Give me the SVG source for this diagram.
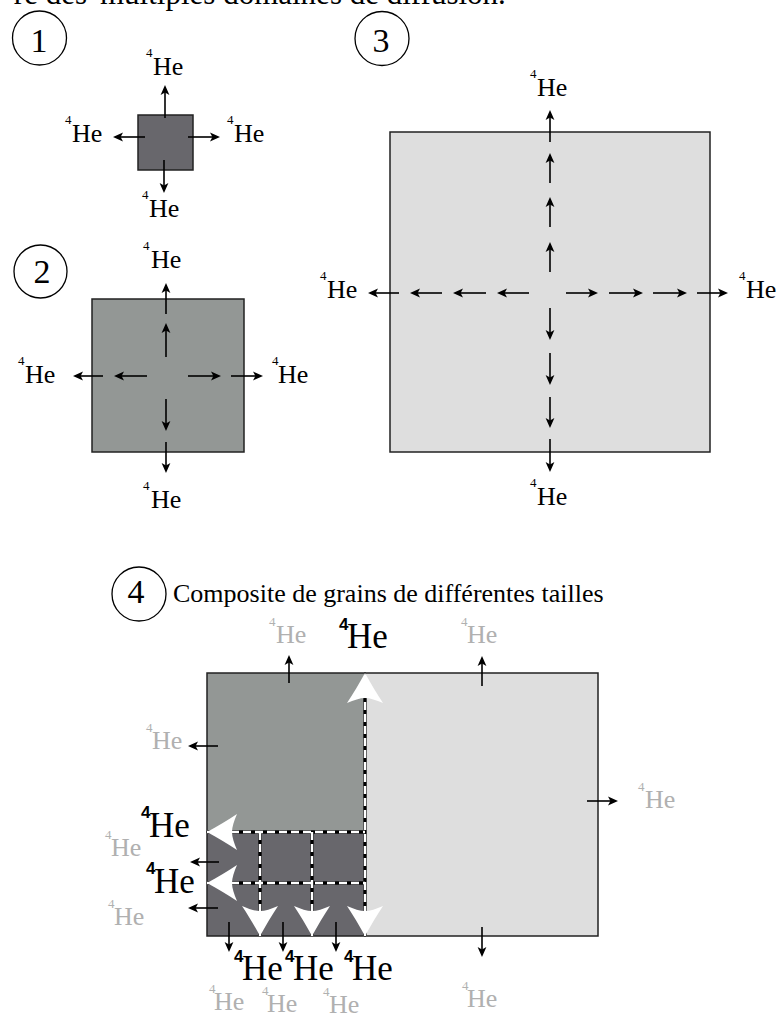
<svg xmlns="http://www.w3.org/2000/svg" width="777" height="1014" viewBox="0 0 777 1014">
<style>
.t{font-family:"Liberation Serif","Times New Roman",serif;fill:#000}
.lbl{font-size:26px}
.sup{font-size:13px}
.big{font-size:35px}
.bsup{font-family:"Liberation Sans",Arial,sans-serif;font-weight:bold;font-size:17px;fill:#000}
.gray{fill:#b0b0b0}
.num{font-size:34px;text-anchor:middle}
.ring{fill:none;stroke:#000;stroke-width:1.3}
.box{stroke:#222;stroke-width:1.5}
.dark{fill:#68676c}
.mid{fill:#939795}
.light{fill:#dedede}
.arr{fill:none;stroke:#000;stroke-width:1.6;marker-end:url(#ah)}
.dblack{fill:none;stroke:#000;stroke-width:3.4}
.dwhite{fill:none;stroke:#fff;stroke-width:2.4;stroke-dasharray:8 4}
</style>
<defs>
<marker id="ah" markerUnits="userSpaceOnUse" markerWidth="14" markerHeight="12" refX="7" refY="5" orient="auto">
<path d="M0,0.6 L10,5 L0,9.4 L2.4,5 Z" fill="#000"/>
</marker>
<path id="wa" d="M0,0 C6,11 12,21 18,30 C11,27 5,25 0,25 C-5,25 -11,27 -18,30 C-12,21 -6,11 0,0 Z" fill="#fff"/>
</defs>

<text class="t" x="87" y="4" font-size="31" text-anchor="end">re des</text>
<text class="t" x="100" y="4" font-size="31">multiples domaines de diffusion.</text>

<g id="panel1">
<circle class="ring" cx="39.5" cy="38" r="27"/>
<text class="t num" x="39" y="52">1</text>
<rect class="box dark" x="138" y="115" width="55" height="55"/>
<text class="t lbl"><tspan class="sup" x="146" y="57">4</tspan><tspan x="153" y="75">He</tspan></text>
<text class="t lbl"><tspan class="sup" x="65" y="124">4</tspan><tspan x="72" y="142">He</tspan></text>
<text class="t lbl"><tspan class="sup" x="227" y="124">4</tspan><tspan x="234" y="142">He</tspan></text>
<text class="t lbl"><tspan class="sup" x="142" y="199">4</tspan><tspan x="149" y="217">He</tspan></text>
</g>

<g id="panel2">
<circle class="ring" cx="40.5" cy="271.5" r="26.5"/>
<text class="t num" x="42" y="283">2</text>
<rect class="box mid" x="92" y="299" width="152" height="153"/>
<text class="t lbl"><tspan class="sup" x="143" y="250">4</tspan><tspan x="151" y="268">He</tspan></text>
<text class="t lbl"><tspan class="sup" x="18" y="365">4</tspan><tspan x="25" y="383">He</tspan></text>
<text class="t lbl"><tspan class="sup" x="272" y="365">4</tspan><tspan x="278" y="383">He</tspan></text>
<text class="t lbl"><tspan class="sup" x="143" y="490">4</tspan><tspan x="151" y="508">He</tspan></text>
</g>

<g id="panel3">
<circle class="ring" cx="382" cy="38.5" r="27"/>
<text class="t num" x="381" y="52">3</text>
<rect class="box light" x="390" y="132" width="320" height="320"/>
<text class="t lbl"><tspan class="sup" x="530" y="78">4</tspan><tspan x="537" y="96">He</tspan></text>
<text class="t lbl"><tspan class="sup" x="320" y="280">4</tspan><tspan x="327" y="298">He</tspan></text>
<text class="t lbl"><tspan class="sup" x="739" y="280">4</tspan><tspan x="746" y="298">He</tspan></text>
<text class="t lbl"><tspan class="sup" x="530" y="487">4</tspan><tspan x="537" y="505">He</tspan></text>
</g>

<g id="panel4">
<circle class="ring" cx="139" cy="594" r="27"/>
<text class="t num" x="136" y="603">4</text>
<text class="t" x="173" y="602" font-size="26">Composite de grains de différentes tailles</text>
<g id="grain-medium"><rect class="box mid" x="207" y="673" width="158" height="159"/></g>
<g id="grain-large"><rect class="box light" x="365" y="673" width="233" height="263"/></g>
<g id="grains-small"><rect class="box dark" x="207" y="832" width="158" height="104"/></g>
<g id="boundaries">
<path class="dblack" d="M365,690 V936 M207,832 H365 M207,883 H365 M260,832 V936 M312,832 V936"/>
<path class="dwhite" d="M365,690 V936 M207,832 H365 M207,883 H365 M260,832 V936 M312,832 V936"/>
<use href="#wa" transform="translate(365,673)"/>
<use href="#wa" transform="translate(207,832) rotate(-90)"/>
<use href="#wa" transform="translate(207,883) rotate(-90)"/>
<use href="#wa" transform="translate(260,936) rotate(180)"/>
<use href="#wa" transform="translate(312,936) rotate(180)"/>
<use href="#wa" transform="translate(365,936) rotate(180)"/>
</g>
<g id="labels4">
<text class="t lbl gray"><tspan class="sup" x="269" y="626">4</tspan><tspan x="276" y="643">He</tspan></text>
<text class="t lbl gray"><tspan class="sup" x="461" y="626">4</tspan><tspan x="467" y="643">He</tspan></text>
<text class="t lbl gray"><tspan class="sup" x="638" y="791">4</tspan><tspan x="645" y="808">He</tspan></text>
<text class="t lbl gray"><tspan class="sup" x="146" y="732">4</tspan><tspan x="152" y="749">He</tspan></text>
<text class="t lbl gray"><tspan class="sup" x="105" y="839">4</tspan><tspan x="111" y="856">He</tspan></text>
<text class="t lbl gray"><tspan class="sup" x="108" y="908">4</tspan><tspan x="114" y="925">He</tspan></text>
<text class="t lbl gray"><tspan class="sup" x="209" y="993">4</tspan><tspan x="214" y="1010">He</tspan></text>
<text class="t lbl gray"><tspan class="sup" x="262" y="995">4</tspan><tspan x="267" y="1012">He</tspan></text>
<text class="t lbl gray"><tspan class="sup" x="323" y="996">4</tspan><tspan x="329" y="1013">He</tspan></text>
<text class="t lbl gray"><tspan class="sup" x="462" y="990">4</tspan><tspan x="467" y="1007">He</tspan></text>
<text class="t big"><tspan class="bsup" x="339" y="630">4</tspan><tspan x="347" y="648">He</tspan></text>
<text class="t big"><tspan class="bsup" x="141" y="818">4</tspan><tspan x="149" y="837">He</tspan></text>
<text class="t big"><tspan class="bsup" x="146" y="874">4</tspan><tspan x="154" y="893">He</tspan></text>
<text class="t big"><tspan class="bsup" x="234" y="962">4</tspan><tspan x="242" y="980">He</tspan></text>
<text class="t big"><tspan class="bsup" x="285" y="962">4</tspan><tspan x="293" y="980">He</tspan></text>
<text class="t big"><tspan class="bsup" x="344" y="962">4</tspan><tspan x="352" y="980">He</tspan></text>
</g>
</g>

<g id="connectors">
<path class="arr" d="M165,118 L165,88"/>
<path class="arr" d="M145,137 L116,137"/>
<path class="arr" d="M188,137 L217,137"/>
<path class="arr" d="M164,160 L164,190"/>

<path class="arr" d="M166,314 L166,286"/>
<path class="arr" d="M166,357 L166,326"/>
<path class="arr" d="M166,399 L166,428"/>
<path class="arr" d="M166,442 L166,470"/>
<path class="arr" d="M103,376 L76,376"/>
<path class="arr" d="M147,376 L117,376"/>
<path class="arr" d="M188,376 L218,376"/>
<path class="arr" d="M231,376 L260,376"/>

<path class="arr" d="M550,272 L550,245"/>
<path class="arr" d="M550,227 L550,200"/>
<path class="arr" d="M550,183 L550,156"/>
<path class="arr" d="M550,142 L550,113"/>
<path class="arr" d="M550,308 L550,337"/>
<path class="arr" d="M550,353 L550,382"/>
<path class="arr" d="M550,397 L550,425"/>
<path class="arr" d="M550,439 L550,469"/>
<path class="arr" d="M529,293 L500,293"/>
<path class="arr" d="M486,293 L456,293"/>
<path class="arr" d="M442,293 L413,293"/>
<path class="arr" d="M399,293 L371,293"/>
<path class="arr" d="M566,293 L595,293"/>
<path class="arr" d="M609,293 L640,293"/>
<path class="arr" d="M653,293 L684,293"/>
<path class="arr" d="M697,293 L725,293"/>

<path class="arr" d="M289,683 L289,658"/>
<path class="arr" d="M482,686 L482,659"/>
<path class="arr" d="M587,801 L615,801"/>
<path class="arr" d="M482,927 L482,954"/>
<path class="arr" d="M218,746 L191,746"/>
<path class="arr" d="M219,862 L193,862"/>
<path class="arr" d="M218,908 L191,908"/>
<path class="arr" d="M229,922 L229,949"/>
<path class="arr" d="M283,922 L283,949"/>
<path class="arr" d="M336,922 L336,949"/>
</g>
</svg>
